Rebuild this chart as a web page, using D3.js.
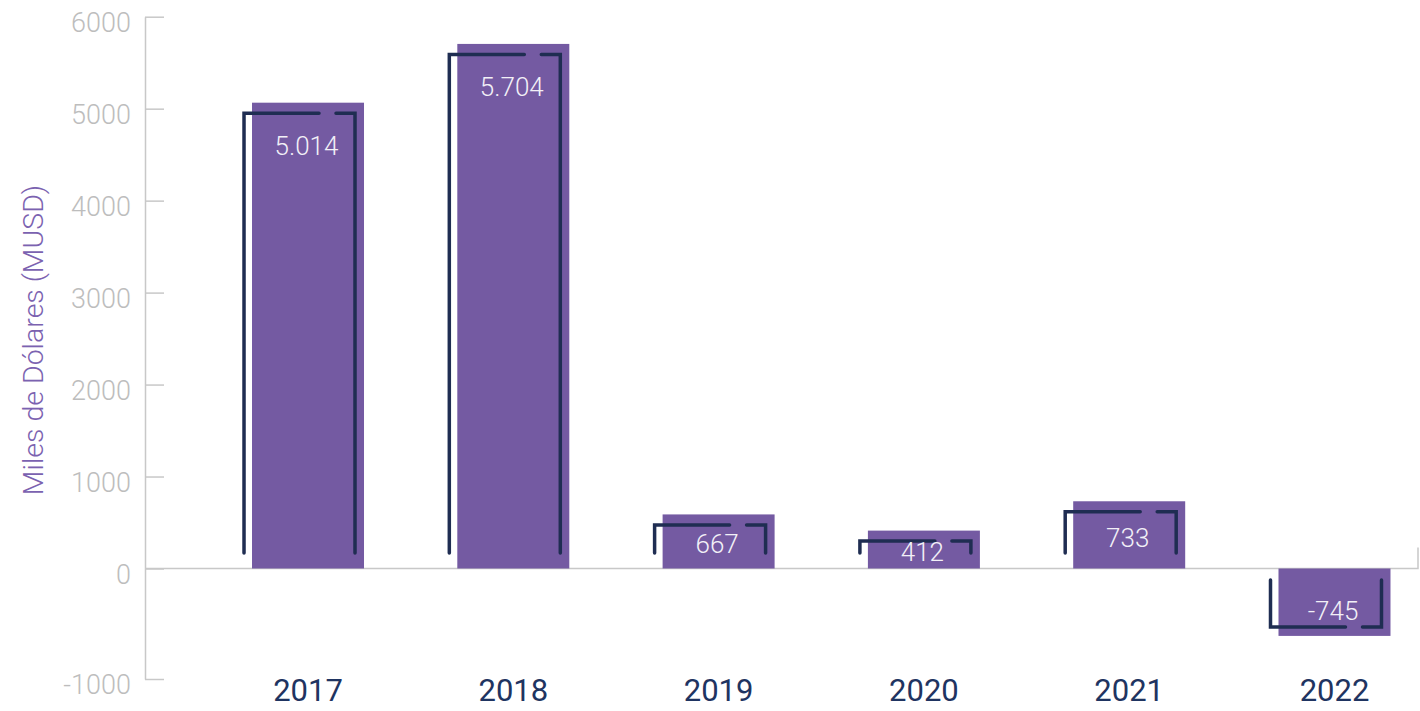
<!DOCTYPE html>
<html>
<head>
<meta charset="utf-8">
<script src="https://cdn.jsdelivr.net/npm/d3@7"></script>
<style>
  body { margin: 0; background: #fff; }
  svg { display: block; font-family: Roboto, "Open Sans", sans-serif; }
</style>
</head>
<body>
<svg id="chart" width="1420" height="711"></svg>
<script>
// data
const years = ["2017", "2018", "2019", "2020", "2021", "2022"];
const barValues = [5065, 5704, 588, 412, 731, -610];
const barLabels = ["5.014", "5.704", "667", "412", "733", "-745"];
const yTicks = [-1000, 0, 1000, 2000, 3000, 4000, 5000, 6000];
const yTitle = "Miles de Dólares (MUSD)";

const width = 1420, height = 711;
const axisX = 145, axisEnd = 1418;

const svg = d3.select("#chart");

const x = d3.scaleBand().domain(years)
    .range([205.35, 1437.15])
    .paddingInner(0.4545).paddingOuter(0.2273);

// the picture's -1000 tick sits lower than the rest of the scale
const y = d3.scaleLinear().domain([-1000, 0, 6000]).range([679, 568.5, 16.7]);

const purple = "#745aa2", navy = "#1f2d52", grey = "#c8c8c8";

// y axis
const yAxis = svg.append("g").attr("transform", `translate(${axisX},0)`)
    .call(d3.axisLeft(y).tickValues(yTicks).tickSize(-19).tickSizeOuter(0).tickPadding(14).tickFormat(d => String(d)));
yAxis.select(".domain").attr("stroke", grey).attr("stroke-width", 1.5);
yAxis.selectAll(".tick line").attr("stroke", grey).attr("stroke-width", 1.5);
yAxis.selectAll(".tick text")
    .attr("fill", "#bdbdbd").attr("font-size", 27).attr("font-weight", 300)
    .attr("font-family", "Roboto, sans-serif").attr("dy", "0.55em");

// zero line with small end tick
const y0 = y(0);
svg.append("path")
    .attr("d", `M${axisX},${y0}H${axisEnd}V${y0 - 21}`)
    .attr("fill", "none").attr("stroke", grey).attr("stroke-width", 1.5);

// x labels
const xAxis = svg.append("g").attr("transform", `translate(0,${y0})`)
    .call(d3.axisBottom(x).tickSize(0).tickPadding(110));
xAxis.select(".domain").remove();
xAxis.selectAll(".tick text")
    .attr("fill", "#1f3461").attr("font-size", 31).attr("font-weight", 400)
    .attr("font-family", "Roboto, sans-serif");

// y title
svg.append("text")
    .attr("transform", `translate(43,340) rotate(-90)`)
    .attr("text-anchor", "middle")
    .attr("fill", "#7b62b0").attr("font-size", 28.5).attr("font-weight", 300)
    .text(yTitle);

const data = years.map((yr, i) => ({year: yr, value: barValues[i], label: barLabels[i]}));

// bars
svg.append("g").selectAll("rect").data(data).join("rect")
    .attr("x", d => x(d.year))
    .attr("y", d => y(Math.max(0, d.value)))
    .attr("width", x.bandwidth())
    .attr("height", d => Math.abs(y(d.value) - y0))
    .attr("fill", purple);

// bracket decorations, shifted a bit left of each bar
function bracketPath(d) {
    const l = x(d.year) - 8, r = x(d.year) + x.bandwidth() - 9;
    const gapA = r - 36, gapB = r - 19;
    if (d.value >= 0) {
        const t = y(d.value) + 10.5, b = y0 - 15.5;
        return `M${l},${b}V${t}H${gapA}M${gapB},${t}H${r}V${b}`;
    }
    const t = y0 + 11.5, b = y(d.value) - 9;
    return `M${l},${t}V${b}H${gapA}M${gapB},${b}H${r}V${t}`;
}

svg.append("g").selectAll("path").data(data).join("path")
    .attr("d", bracketPath)
    .attr("fill", "none").attr("stroke", navy)
    .attr("stroke-width", 3.5).attr("stroke-linecap", "round");

// value labels
svg.append("g").selectAll("text").data(data).join("text")
    .attr("x", d => x(d.year) + x.bandwidth() / 2 - 1.5)
    .attr("y", d => {
        if (d.value < 0) return y(d.value) - 25;
        const h = y0 - y(d.value);
        return y(d.value) + Math.min(43, h * 0.55);
    })
    .attr("dy", "0.35em")
    .attr("text-anchor", "middle")
    .attr("fill", "#f2f0f7").attr("font-size", 26).attr("font-weight", 300)
    .text(d => d.label);
</script>
</body>
</html>
